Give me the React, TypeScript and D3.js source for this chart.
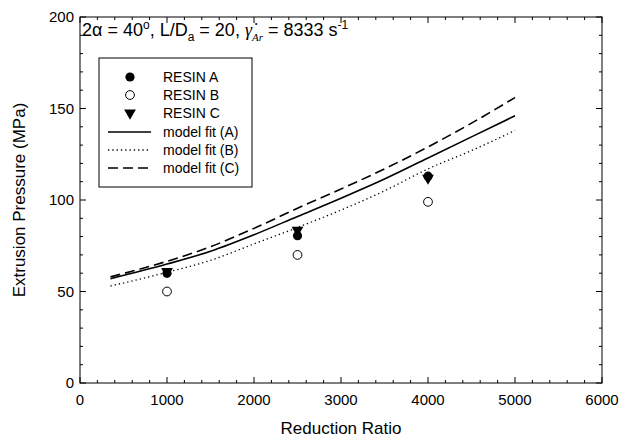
import React from "react";
import * as d3 from "d3";

const xTicks = [0, 1000, 2000, 3000, 4000, 5000, 6000];
const yTicks = [0, 50, 100, 150, 200];

const pointX = [1000, 2500, 4000];
const resinA = [60, 80.5, 113];
const resinB = [50, 70, 99];
const resinC = [61, 83.5, 112];

const fitX = [350, 1000, 1500, 2000, 2500, 3000, 3500, 4000, 4500, 5000];
const fitA = [57, 65, 72, 81, 91, 101, 111.5, 123, 134.5, 146];
const fitB = [53, 60.5, 67, 76, 85, 94.5, 105, 117, 127, 138];
const fitC = [58, 66.5, 74.5, 84.5, 95.5, 106, 117, 129, 142, 156];

const legendLabels = ["RESIN A", "RESIN B", "RESIN C", "model fit (A)", "model fit (B)", "model fit (C)"];

const W = 622, H = 446;
const L = 80, R = 602, T = 17, B = 383;
const FONT = "'Liberation Sans', Arial, sans-serif";

export default function App() {
  const x = d3.scaleLinear().domain([0, 6000]).range([L, R]);
  const y = d3.scaleLinear().domain([0, 200]).range([B, T]);
  const line = d3.line<number>().x((_, i) => x(fitX[i])).curve(d3.curveMonotoneX);
  const mk = (arr: number[]) => line.y((v) => y(v))(arr) as string;

  const xMinor = d3.range(0, 6001, 200);
  const yMinor = d3.range(0, 201, 10);
  const tri = d3.symbol(d3.symbolTriangle, 60)() as string;

  const lx = 99, ly = 58, lw = 153, lh = 129;
  const rowY = [77, 95, 113, 132, 150, 168];

  return (
    <svg width={W} height={H} style={{ position: "absolute", left: 0, top: 0, background: "#fff" }} fontFamily={FONT}>
      <rect x={0} y={0} width={W} height={H} fill="#fff" />
      {xMinor.map((v) => {
        const major = v % 1000 === 0;
        const len = major ? 6 : 3;
        return (
          <g key={"xt" + v} stroke="#000" strokeWidth={1}>
            <line x1={x(v)} x2={x(v)} y1={B} y2={B - len} />
            <line x1={x(v)} x2={x(v)} y1={T} y2={T + len} />
          </g>
        );
      })}
      {yMinor.map((v) => {
        const major = v % 50 === 0;
        const len = major ? 6 : 3;
        return (
          <g key={"yt" + v} stroke="#000" strokeWidth={1}>
            <line x1={L} x2={L + len} y1={y(v)} y2={y(v)} />
            <line x1={R} x2={R - len} y1={y(v)} y2={y(v)} />
          </g>
        );
      })}
      <rect x={L} y={T} width={R - L} height={B - T} fill="none" stroke="#000" strokeWidth={1} />
      {xTicks.map((v) => (
        <text key={"xl" + v} x={x(v)} y={B + 22} textAnchor="middle" fontSize={15}>{v}</text>
      ))}
      {yTicks.map((v) => (
        <text key={"yl" + v} x={L - 6} y={y(v) + 5} textAnchor="end" fontSize={15}>{v}</text>
      ))}
      <text x={(L + R) / 2} y={434} textAnchor="middle" fontSize={17}>Reduction Ratio</text>
      <text transform={`translate(25,${(T + B) / 2}) rotate(-90)`} textAnchor="middle" fontSize={17}>Extrusion Pressure (MPa)</text>

      <text x={82} y={36} fontSize={18}>
        <tspan>2α = 40</tspan>
        <tspan fontSize={12} dy={-7}>o</tspan>
        <tspan dy={7}>, L/D</tspan>
        <tspan fontSize={12} dy={5}>a</tspan>
        <tspan dy={-5}> = 20, </tspan>
        <tspan fontStyle="italic" fontFamily="'Liberation Serif', serif">γ̇</tspan>
        <tspan fontSize={11} dy={5} fontStyle="italic" fontFamily="'Liberation Serif', serif">Ar</tspan>
        <tspan dy={-5}> = 8333 s</tspan>
        <tspan fontSize={12} dy={-7}>-1</tspan>
      </text>

      <path d={mk(fitA)} fill="none" stroke="#000" strokeWidth={1.6} />
      <path d={mk(fitB)} fill="none" stroke="#000" strokeWidth={1.3} strokeDasharray="1.3 3" />
      <path d={mk(fitC)} fill="none" stroke="#000" strokeWidth={1.6} strokeDasharray="10 5" />

      {pointX.map((v, i) => (
        <path key={"c" + i} d={tri} transform={`translate(${x(v)},${y(resinC[i])}) rotate(180)`} fill="#000" />
      ))}
      {pointX.map((v, i) => (
        <circle key={"a" + i} cx={x(v)} cy={y(resinA[i])} r={4.6} fill="#000" />
      ))}
      {pointX.map((v, i) => (
        <circle key={"b" + i} cx={x(v)} cy={y(resinB[i])} r={4.4} fill="#fff" stroke="#000" strokeWidth={1} />
      ))}

      <rect x={lx} y={ly} width={lw} height={lh} fill="#fff" stroke="#000" strokeWidth={1} />
      <circle cx={130} cy={rowY[0]} r={4.6} fill="#000" />
      <circle cx={130} cy={rowY[1]} r={4.4} fill="#fff" stroke="#000" />
      <path d={tri} transform={`translate(130,${rowY[2]}) rotate(180)`} fill="#000" />
      <line x1={108} x2={151} y1={rowY[3]} y2={rowY[3]} stroke="#000" strokeWidth={1.6} />
      <line x1={108} x2={151} y1={rowY[4]} y2={rowY[4]} stroke="#000" strokeWidth={1.3} strokeDasharray="1.3 3" />
      <line x1={108} x2={151} y1={rowY[5]} y2={rowY[5]} stroke="#000" strokeWidth={1.6} strokeDasharray="10 5" />
      {legendLabels.map((t, i) => (
        <text key={t} x={163} y={rowY[i] + 5} fontSize={14}>{t}</text>
      ))}
    </svg>
  );
}
